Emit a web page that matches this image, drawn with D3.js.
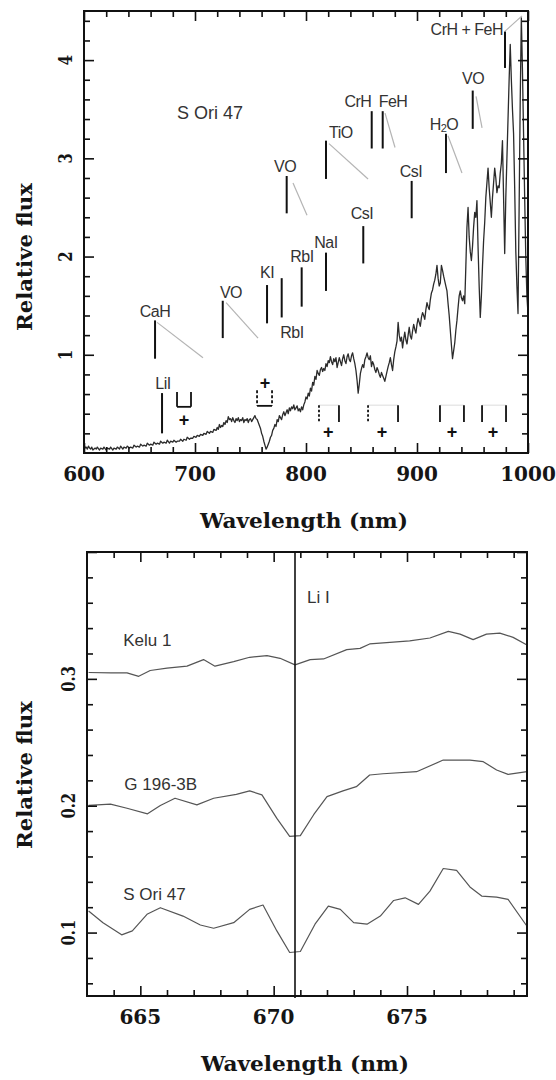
<!DOCTYPE html>
<html><head><meta charset="utf-8">
<script src="https://cdn.jsdelivr.net/npm/d3@7"></script>
<style>body{margin:0;background:#fff} svg{display:block}</style>
</head><body>
<svg id="c" width="556" height="1080"></svg>
<script>
// ---------- DATA ----------
// Top panel: S Ori 47 spectrum (wavelength nm, relative flux)
const topSpectrum = [
[600,0.09],[601,0.05],[602,0.06],[603,0.04],[604,0.07],[605,0.05],[606,0.04],[607,0.06],[608,0.03],[610,0.05],
[611,0.04],[612,0.06],[614,0.03],[615,0.05],[617,0.04],[618,0.06],[620,0.03],[621,0.05],[623,0.04],[624,0.06],
[626,0.03],[627,0.05],[629,0.04],[630,0.06],[632,0.04],[633,0.07],[635,0.04],[636,0.06],[638,0.05],[639,0.07],
[641,0.05],[642,0.06],[644,0.05],[645,0.08],[647,0.06],[648,0.07],[650,0.06],[651,0.09],[653,0.07],[654,0.08],
[656,0.07],[657,0.10],[659,0.08],[660,0.09],[662,0.08],[663,0.11],[665,0.09],[666,0.10],[668,0.09],[669,0.12],
[671,0.10],[672,0.11],[674,0.10],[675,0.13],[677,0.10],[678,0.12],[680,0.11],[681,0.13],[683,0.11],[684,0.12],
[686,0.12],[687,0.14],[689,0.12],[690,0.14],[692,0.13],[693,0.16],[695,0.14],[696,0.15],[698,0.15],[699,0.17],
[701,0.16],[702,0.18],[704,0.17],[705,0.19],[707,0.18],[708,0.20],[710,0.19],[711,0.22],[713,0.20],[714,0.22],
[716,0.21],[717,0.24],[719,0.23],[720,0.26],[721,0.24],[722,0.29],[723,0.26],[724,0.28],[725,0.27],[726,0.31],
[727,0.29],[728,0.33],[729,0.31],[730,0.37],[731,0.34],[732,0.35],[733,0.32],[734,0.36],[735,0.33],[736,0.31],
[737,0.35],[738,0.33],[739,0.36],[740,0.32],[741,0.34],[742,0.33],[743,0.36],[744,0.31],[745,0.34],[746,0.33],
[747,0.35],[748,0.31],[749,0.34],[750,0.35],[751,0.32],[752,0.34],[753,0.36],[754,0.38],[755,0.35],[756,0.34],
[757,0.31],[758,0.28],[759,0.25],[760,0.20],[761,0.17],[762,0.12],[763,0.08],[764,0.04],[765,0.06],[766,0.09],
[767,0.12],[768,0.16],[769,0.18],[770,0.23],[771,0.25],[772,0.29],[773,0.27],[774,0.34],[775,0.32],[776,0.38],
[777,0.36],[778,0.34],[779,0.39],[780,0.42],[781,0.38],[782,0.41],[783,0.44],[784,0.40],[785,0.46],[786,0.43],
[787,0.47],[788,0.45],[789,0.49],[790,0.44],[791,0.46],[792,0.48],[793,0.43],[794,0.45],[795,0.42],[796,0.47],
[797,0.44],[798,0.49],[799,0.52],[800,0.57],[801,0.55],[802,0.61],[803,0.58],[804,0.66],[805,0.63],[806,0.72],
[807,0.69],[808,0.78],[809,0.75],[810,0.84],[811,0.81],[812,0.79],[813,0.85],[814,0.87],[815,0.83],[816,0.86],
[817,0.84],[818,0.91],[819,0.88],[820,0.94],[821,0.92],[822,0.98],[823,0.93],[824,0.90],[825,0.96],[826,0.93],
[827,0.97],[828,0.87],[829,0.92],[830,0.97],[831,0.93],[832,0.89],[833,0.96],[834,1.00],[835,0.94],[836,0.91],
[837,0.98],[838,1.01],[839,0.95],[840,0.93],[841,0.99],[842,1.02],[843,0.96],[844,0.91],[845,0.84],[846,0.74],
[847,0.61],[848,0.70],[849,0.81],[850,0.86],[851,0.90],[852,0.87],[853,0.95],[854,0.98],[855,1.02],[856,0.97],
[857,0.95],[858,0.99],[859,0.88],[860,0.93],[861,0.90],[862,0.85],[863,0.82],[864,0.87],[865,0.84],[866,0.80],
[867,0.77],[868,0.82],[869,0.79],[870,0.76],[871,0.73],[872,0.78],[873,0.83],[874,0.88],[875,0.92],[876,0.97],
[877,0.90],[878,0.84],[879,0.95],[880,1.03],[881,1.08],[882,1.14],[883,1.33],[884,1.20],[885,1.14],[886,1.18],
[887,1.07],[888,1.16],[889,1.23],[890,1.15],[891,1.11],[892,1.20],[893,1.28],[894,1.19],[895,1.16],[896,1.24],
[897,1.31],[898,1.26],[899,1.22],[900,1.31],[901,1.37],[902,1.33],[903,1.29],[904,1.38],[905,1.43],[906,1.40],
[907,1.36],[908,1.46],[909,1.53],[910,1.49],[911,1.46],[912,1.56],[913,1.63],[914,1.66],[915,1.72],[916,1.76],
[917,1.82],[918,1.91],[919,1.78],[920,1.70],[921,1.73],[922,1.91],[923,1.86],[924,1.80],[925,1.75],[926,1.70],
[927,1.65],[928,1.52],[929,1.40],[930,1.25],[931,1.10],[932,0.96],[933,1.04],[934,1.12],[935,1.25],[936,1.35],
[937,1.48],[938,1.60],[939,1.65],[940,1.58],[941,1.55],[942,1.60],[943,1.52],[944,1.90],[945,2.30],[946,2.50],
[947,2.20],[948,2.05],[949,1.96],[950,2.10],[951,2.30],[952,2.45],[953,2.40],[954,2.57],[955,2.10],[956,1.70],
[957,1.38],[958,1.60],[959,1.90],[960,2.16],[961,2.35],[962,2.60],[963,2.75],[964,2.90],[965,2.70],[966,2.55],
[967,2.40],[968,2.60],[969,2.75],[970,2.90],[971,2.80],[972,2.65],[973,2.72],[974,2.70],[975,2.85],[976,2.95],
[977,3.18],[978,2.60],[979,2.03],[980,2.60],[981,3.00],[982,3.40],[983,3.80],[984,4.16],[985,3.80],[986,3.50],
[987,3.25],[988,2.70],[989,2.06],[990,1.70],[991,1.42],[992,2.50],[993,3.60],[994,4.43],[995,3.90],[996,3.25],
[997,2.60],[998,2.00],[999,1.60],[1000,1.42]
];
// Feature marks: label, line wavelength, line bottom/top flux, label anchor (wl, flux)
const features = [
 {name:"CaH", wl:664.0, f0:0.96, f1:1.35, lwl:664.0, lf:1.44},
 {name:"VO",  wl:725.0, f0:1.17, f1:1.55, lwl:732.4, lf:1.635},
 {name:"KI",  wl:764.9, f0:1.32, f1:1.71, lwl:764.9, lf:1.84},
 {name:"RbI", wl:778.1, f0:1.38, f1:1.78, lwl:787.4, lf:1.23},
 {name:"RbI", wl:796.1, f0:1.49, f1:1.89, lwl:796.4, lf:2.00},
 {name:"NaI", wl:818.0, f0:1.65, f1:2.04, lwl:818.0, lf:2.14},
 {name:"CsI", wl:851.6, f0:1.93, f1:2.31, lwl:850.5, lf:2.44},
 {name:"VO",  wl:782.6, f0:2.44, f1:2.82, lwl:781.1, lf:2.92},
 {name:"TiO", wl:818.0, f0:2.79, f1:3.18, lwl:831.5, lf:3.26},
 {name:"CrH", wl:859.2, f0:3.10, f1:3.48, lwl:846.8, lf:3.58},
 {name:"FeH", wl:869.1, f0:3.10, f1:3.48, lwl:878.4, lf:3.58},
 {name:"CsI", wl:895.2, f0:2.39, f1:2.77, lwl:894.6, lf:2.87},
 {name:"H2O", wl:926.1, f0:2.85, f1:3.25, lwl:924.3, lf:3.35},
 {name:"VO",  wl:950.2, f0:3.30, f1:3.69, lwl:950.5, lf:3.81},
 {name:"LiI", wl:670.3, f0:0.20, f1:0.61, lwl:671.2, lf:0.71}
];
const crhFeh = {name:"CrH + FeH", wl:979.3, f0:3.92, f1:4.29, lwl:977.5, lf:4.31};
// Band guide lines (wl, flux) -> (wl, flux)
const guides = [
 [665.8,1.33,707.2,0.97],[728.0,1.53,756.8,1.17],[788.3,2.75,800.9,2.42],[820.7,3.15,855.9,2.79],
 [871.2,3.46,880.2,3.11],[927.9,3.23,940.5,2.85],[953.2,3.63,958.6,3.31],[978.9,4.29,994.6,4.45]
];
// Telluric markers
const tellSolid = [829.7, 882.9, 920.7, 942.3, 958.6, 980.2];
const tellDotted = [811.7, 855.9];
const tellBands = [[811.7,829.7],[855.9,882.9],[920.7,942.3],[958.6,980.2]];
const tellPlus = [820, 868.5, 931.5, 968.5];
const brackets = [[683.8,696.4],[755.9,769.4]];
const bracketPlus = [[690,0.335],[763,0.71]];
const topObject = {name:"S Ori 47", wl:713.5, f:3.46};

// Bottom panel: Li I region spectra
const kelu1 = [[663.06,0.305],[663.9,0.3047],[664.5,0.3047],[664.94,0.302],[665.37,0.3066],[666.0,0.3084],
 [666.75,0.310],[667.37,0.3152],[667.8,0.310],[668.5,0.3136],[669.1,0.317],[669.75,0.3183],[670.24,0.3162],
 [670.8,0.311],[671.37,0.3152],[671.87,0.3157],[672.74,0.323],[673.24,0.324],[673.6,0.3275],[674.36,0.3288],
 [675.1,0.330],[675.86,0.3322],[676.55,0.3374],[676.99,0.3353],[677.48,0.3309],[677.98,0.3353],[678.48,0.3361],
 [678.98,0.3327],[679.5,0.3267]];
const g1963b = [[663.06,0.2002],[663.88,0.2012],[664.5,0.198],[665.27,0.1936],[665.75,0.2002],[666.3,0.2059],
 [667.12,0.2007],[667.75,0.2059],[668.6,0.209],[669.1,0.2117],[669.56,0.2085],[670.12,0.190],[670.6,0.1758],
 [671.0,0.1764],[671.5,0.1929],[672.0,0.2072],[672.6,0.2117],[673.1,0.2150],[673.6,0.2242],[674.1,0.2252],
 [675.36,0.2268],[676.36,0.236],[677.36,0.236],[677.86,0.2347],[678.36,0.2282],[678.79,0.2247],[679.5,0.2268]];
const sori47 = [[663.06,0.117],[663.6,0.1078],[664.3,0.0982],[664.7,0.1013],[665.25,0.1144],[665.75,0.1196],
 [666.6,0.113],[667.25,0.106],[667.75,0.1034],[668.5,0.1078],[669.1,0.1183],[669.6,0.1217],[670.12,0.1013],
 [670.6,0.0843],[671.0,0.0851],[671.55,0.1066],[672.05,0.1209],[672.5,0.1183],[673.0,0.1078],[673.5,0.1066],
 [674.0,0.113],[674.5,0.1253],[674.93,0.1274],[675.43,0.1222],[675.86,0.1327],[676.36,0.1505],[676.86,0.149],
 [677.36,0.136],[677.8,0.1288],[678.36,0.128],[678.79,0.1262],[679.5,0.105]];
const botLabels = [{name:"Kelu 1", wl:664.36, f:0.330},{name:"G 196-3B", wl:664.4, f:0.2166},{name:"S Ori 47", wl:664.36, f:0.130}];
const liLine = {name:"Li I", wl:670.8, lwl:671.25, lf:0.364};

// Ticks
const topXTicks = [600,700,800,900,1000];
const topYTicks = [1,2,3,4];
const botXTicks = [665,670,675];
const botYTicks = [0.1,0.2,0.3];
const xLabel = "Wavelength (nm)";
const yLabel = "Relative flux";

// ---------- DRAW ----------
const svg = d3.select("#c");
svg.append("rect").attr("width",556).attr("height",1080).attr("fill","#fff");

const T = {l:84, r:528, t:11, b:453};
const B = {l:87, r:527, t:552, b:996};
const xT = d3.scaleLinear().domain([600,1000]).range([T.l,T.r]);
const yT = d3.scaleLinear().domain([0,4.5]).range([T.b,T.t]);
const xB = d3.scaleLinear().domain([663,679.5]).range([B.l,B.r]);
const yB = d3.scaleLinear().domain([0.05,0.4]).range([B.b,B.t]);

const axisFont = "'DejaVu Serif', 'Liberation Serif', serif";
const sans = "'Liberation Sans', Arial, sans-serif";

function drawFrame(box, x, y, xMaj, xMin, yMaj, yMin, yTickText, yLabelY, yTickBase, fmt) {
  const g = svg.append("g");
  const defs = [
    [d3.axisBottom, x, `translate(0,${box.b})`],
    [d3.axisTop, x, `translate(0,${box.t})`],
    [d3.axisLeft, y, `translate(${box.l},0)`],
    [d3.axisRight, y, `translate(${box.r},0)`]
  ];
  defs.forEach(([ax, sc, tr], i) => {
    const isX = i < 2;
    const maj = isX ? xMaj : yMaj, min = isX ? xMin : yMin;
    [[maj,-10],[min,-6]].forEach(([vals, sz]) => {
      const a = g.append("g").attr("transform", tr)
        .call(ax(sc).tickValues(vals).tickSize(sz).tickFormat(""));
      a.select(".domain").remove();
      a.selectAll("line").attr("stroke","#111").attr("stroke-width",1.6);
    });
  });
  g.append("rect").attr("x",box.l).attr("y",box.t).attr("width",box.r-box.l).attr("height",box.b-box.t)
    .attr("fill","none").attr("stroke","#111").attr("stroke-width",2);
  // x tick labels
  g.selectAll(".xl").data(xMaj).join("text")
    .attr("x", d=>x(d)).attr("y", box.b+28)
    .attr("text-anchor","middle").attr("font-family",axisFont).attr("font-weight","bold")
    .attr("font-size",20).attr("fill","#151515").text(d=>fmt(d));
  // y tick labels
  g.selectAll(".yl").data(yTickText).join("text")
    .attr("transform", d=>`translate(${yTickBase},${y(d)}) rotate(-90) scale(0.78,1)`)
    .attr("text-anchor","middle").attr("font-family",axisFont).attr("font-weight","bold")
    .attr("font-size",19).attr("fill","#151515").text(d=>fmt(d));
  // axis titles
  g.append("text").attr("x",(box.l+box.r)/2 - 2).attr("y",box.b+75)
    .attr("text-anchor","middle").attr("font-family",axisFont).attr("font-weight","bold")
    .attr("font-size",20).attr("textLength",208).attr("lengthAdjust","spacingAndGlyphs")
    .attr("fill","#151515").text(xLabel);
  g.append("text").attr("transform",`translate(32,${yLabelY}) rotate(-90)`)
    .attr("text-anchor","middle").attr("font-family",axisFont).attr("font-weight","bold")
    .attr("font-size",20).attr("textLength",148).attr("lengthAdjust","spacingAndGlyphs")
    .attr("fill","#151515").text(yLabel);
}

// ---- Top panel ----
const line = (x,y) => d3.line().x(d=>x(d[0])).y(d=>y(d[1]));
svg.append("path").datum(topSpectrum).attr("d", line(xT,yT))
  .attr("fill","none").attr("stroke","#2b2b2b").attr("stroke-width",1.3).attr("stroke-linejoin","round");

// guides
svg.selectAll(".guide").data(guides).join("line")
  .attr("x1",d=>xT(d[0])).attr("y1",d=>yT(d[1])).attr("x2",d=>xT(d[2])).attr("y2",d=>yT(d[3]))
  .attr("stroke","#b4b4b4").attr("stroke-width",1.2);

const allFeat = features.concat([crhFeh]);
svg.selectAll(".feat").data(allFeat).join("line")
  .attr("x1",d=>xT(d.wl)).attr("x2",d=>xT(d.wl)).attr("y1",d=>yT(d.f0)).attr("y2",d=>yT(d.f1))
  .attr("stroke","#111").attr("stroke-width",2);
const ft = svg.selectAll(".ftxt").data(allFeat).join("text")
  .attr("x",d=>xT(d.lwl)).attr("y",d=>yT(d.lf))
  .attr("text-anchor",d=>d===crhFeh?"end":"middle").attr("dominant-baseline","central")
  .attr("font-family",sans).attr("font-size",16).attr("letter-spacing",-0.5).attr("fill","#333");
ft.each(function(d){
  const t = d3.select(this);
  if (d.name === "H2O") {
    t.append("tspan").text("H");
    t.append("tspan").attr("font-size",11).attr("dy",4).text("2");
    t.append("tspan").attr("dy",-4).text("O");
  } else t.text(d.name);
});

svg.append("text").attr("x",xT(topObject.wl)).attr("y",yT(topObject.f))
  .attr("text-anchor","middle").attr("dominant-baseline","central")
  .attr("font-family",sans).attr("font-size",18).attr("fill","#333").text(topObject.name);

// telluric marks
const tTop = 0.487, tBot = 0.315, tPlus = 0.213;
svg.selectAll(".tband").data(tellBands).join("line")
  .attr("x1",d=>xT(d[0])).attr("x2",d=>xT(d[1])).attr("y1",yT(tTop)).attr("y2",yT(tTop))
  .attr("stroke","#ddd").attr("stroke-width",1);
svg.selectAll(".tsol").data(tellSolid).join("line")
  .attr("x1",d=>xT(d)).attr("x2",d=>xT(d)).attr("y1",yT(tTop)).attr("y2",yT(tBot))
  .attr("stroke","#111").attr("stroke-width",1.8);
svg.selectAll(".tdot").data(tellDotted).join("line")
  .attr("x1",d=>xT(d)).attr("x2",d=>xT(d)).attr("y1",yT(tTop)).attr("y2",yT(tBot))
  .attr("stroke","#111").attr("stroke-width",1.8).attr("stroke-dasharray","2.5,2");
svg.selectAll(".tplus").data(tellPlus).join("text")
  .attr("x",d=>xT(d)).attr("y",yT(tPlus)).attr("text-anchor","middle").attr("dominant-baseline","central")
  .attr("font-family",sans).attr("font-size",18).attr("font-weight","bold").attr("fill","#111").text("+");
// brackets
brackets.forEach((b,i)=>{
  const y0 = yT(i===0?0.62:0.64), y1 = yT(i===0?0.47:0.48);
  const dash = i===0 ? null : "3,2";
  [b[0],b[1]].forEach(w => svg.append("line").attr("x1",xT(w)).attr("x2",xT(w)).attr("y1",y0).attr("y2",y1)
    .attr("stroke","#111").attr("stroke-width",1.8).attr("stroke-dasharray",dash));
  svg.append("line").attr("x1",xT(b[0])).attr("x2",xT(b[1])).attr("y1",y1).attr("y2",y1)
    .attr("stroke","#111").attr("stroke-width",1.8);
});
svg.selectAll(".bplus").data(bracketPlus).join("text")
  .attr("x",d=>xT(d[0])).attr("y",d=>yT(d[1])).attr("text-anchor","middle").attr("dominant-baseline","central")
  .attr("font-family",sans).attr("font-size",18).attr("font-weight","bold").attr("fill","#111").text("+");

drawFrame(T, xT, yT, topXTicks, d3.range(620,1000,20).filter(v=>v%100), topYTicks,
  d3.range(0.2,4.5,0.2).filter(v=>Math.abs(v-Math.round(v))>0.01), topYTicks, 257, 72, d=>d3.format("d")(d));

// ---- Bottom panel ----
[kelu1, g1963b, sori47].forEach(s => {
  svg.append("path").datum(s).attr("d", line(xB,yB))
    .attr("fill","none").attr("stroke","#555").attr("stroke-width",1.2).attr("stroke-linejoin","round");
});
svg.append("line").attr("x1",xB(liLine.wl)).attr("x2",xB(liLine.wl)).attr("y1",B.t).attr("y2",B.b+2)
  .attr("stroke","#111").attr("stroke-width",1.6);
svg.append("text").attr("x",xB(liLine.lwl)).attr("y",yB(liLine.lf)).attr("dominant-baseline","central")
  .attr("font-family",sans).attr("font-size",17).attr("fill","#333").text(liLine.name);
svg.selectAll(".blab").data(botLabels).join("text")
  .attr("x",d=>xB(d.wl)).attr("y",d=>yB(d.f)).attr("dominant-baseline","central")
  .attr("font-family",sans).attr("font-size",17).attr("fill","#333").text(d=>d.name);

drawFrame(B, xB, yB, botXTicks, d3.range(664,680,1).filter(v=>v%5), d3.range(0.1,0.41,0.1),
  d3.range(0.06,0.4,0.02).filter(v=>Math.abs(v*10-Math.round(v*10))>0.01), botYTicks, 775, 75,
  d=>d>=100?d3.format("d")(d):d3.format(".1f")(d));
</script>
</body></html>
